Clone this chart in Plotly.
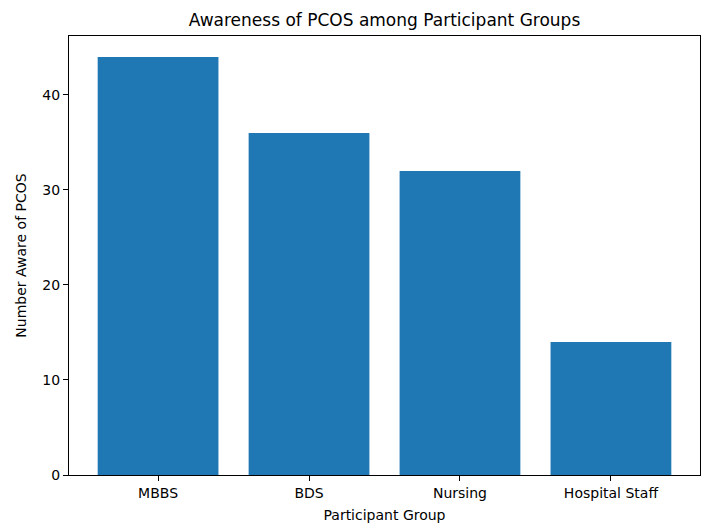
import plotly.graph_objects as go

groups = ["MBBS", "BDS", "Nursing", "Hospital Staff"]
aware = [44, 36, 32, 14]

font = "DejaVu Sans"
W, H = 701, 530
fig = go.Figure(go.Bar(x=list(range(len(groups))), y=aware, marker_color="#1f77b4",
                       marker_line_width=0, width=0.8))
fig.update_layout(
    width=W, height=H,
    margin=dict(l=69, r=1, t=36, b=55),
    plot_bgcolor="white", paper_bgcolor="white",
    font=dict(family=font, size=14, color="black"),
    title=dict(text="Awareness of PCOS among Participant Groups", x=0.5, xref="paper",
               y=(H - 20) / H, yref="container", xanchor="center", yanchor="middle",
               font=dict(size=17, family=font)),
    showlegend=False,
)
fig.update_xaxes(
    tickmode="array", tickvals=list(range(len(groups))), ticktext=groups,
    range=[-0.59, 3.59], showline=True, linecolor="black", linewidth=1, mirror=True,
    ticks="outside", ticklen=5, tickcolor="black", showgrid=False, zeroline=False,
    tickfont=dict(size=14),
    title=dict(text="Participant Group", font=dict(size=14), standoff=10),
)
fig.update_yaxes(
    tickvals=[0, 10, 20, 30, 40], range=[0, 46.2],
    showline=True, linecolor="black", linewidth=1, mirror=True,
    ticks="outside", ticklen=5, tickcolor="black", showgrid=False, zeroline=False,
    tickfont=dict(size=14),
    title=dict(text="Number Aware of PCOS", font=dict(size=14), standoff=12),
)
fig.write_html(
    "out.html",
    config={"displayModeBar": False},
    post_script="document.body.style.margin='0';"
                "document.documentElement.style.overflow='hidden';"
                "document.body.style.overflow='hidden';",
)
